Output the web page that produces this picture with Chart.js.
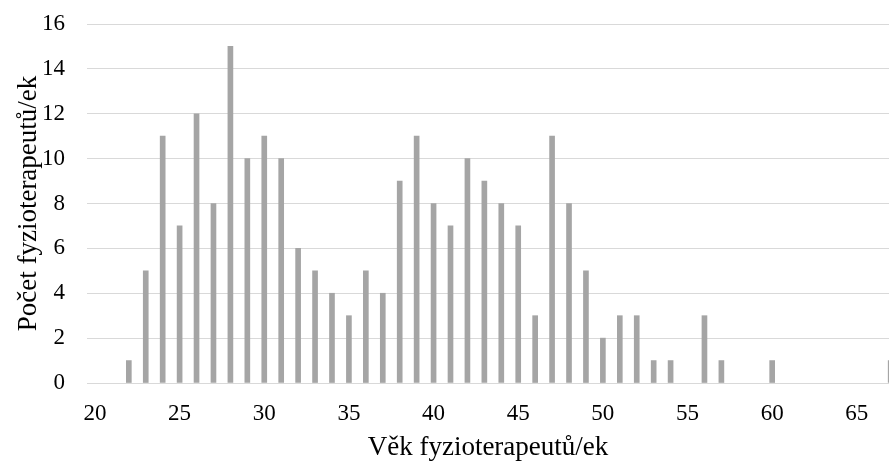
<!DOCTYPE html>
<html>
<head>
<meta charset="utf-8">
<script src="https://cdn.jsdelivr.net/npm/chart.js@4/dist/chart.umd.min.js"></script>
<style>
  body { margin: 0; background: #fff; }
  canvas { display: block; }
</style>
</head>
<body>
<canvas id="graph" width="889" height="464"></canvas>
<script>
// age of the physiotherapists and how many of them there are
const ages = [22, 23, 24, 25, 26, 27, 28, 29, 30, 31, 32, 33, 34, 35, 36, 37, 38, 39, 40, 41, 42, 43, 44,
    45, 46, 47, 48, 49, 50, 51, 52, 53, 54, 55, 56, 57, 58, 59, 60, 61, 62, 63, 64, 65, 66, 67];
const counts = [1, 5, 11, 7, 12, 8, 15, 10, 11, 10, 6, 5, 4, 3, 5, 4, 9, 11, 8, 7, 10, 9, 8,
    7, 3, 11, 8, 5, 2, 3, 3, 1, 1, 0, 3, 1, 0, 0, 1, 0, 0, 0, 0, 0, 0, 1];
const xTicks = [20, 25, 30, 35, 40, 45, 50, 55, 60, 65];
const yTicks = [0, 2, 4, 6, 8, 10, 12, 14, 16];

// empty ages get no bar at all
const points = ages.map((a, i) => ({ x: a, y: counts[i] })).filter(p => p.y > 0);

const family = '"Liberation Serif", "Times New Roman", serif';
const tickFont = { family: family, size: 23 };
const titleFont = { family: family, size: 27 };

const ctx = document.getElementById("graph").getContext("2d");
new Chart(ctx, {
    type: "bar",
    data: {
        datasets: [{
            data: points,
            backgroundColor: "#a5a5a5",
            barThickness: 5
        }]
    },
    options: {
        responsive: false,
        animation: false,
        layout: { padding: { top: 24, right: 0, bottom: 0, left: 0 } },
        plugins: { legend: { display: false }, tooltip: { enabled: false } },
        scales: {
            x: {
                type: "linear",
                offset: false,
                min: 19.53,
                max: 66.9,
                grid: { display: false },
                border: { display: false },
                afterBuildTicks: scale => { scale.ticks = xTicks.map(v => ({ value: v })); },
                afterFit: scale => { scale.height = 81; },
                ticks: { font: tickFont, color: "#000", padding: 9, maxRotation: 0, autoSkip: false },
                title: {
                    display: true,
                    text: "Věk fyzioterapeutů/ek",
                    font: titleFont,
                    color: "#000",
                    padding: { top: 0, bottom: 0 }
                }
            },
            y: {
                min: 0,
                max: 16,
                grid: { color: "#d9d9d9", lineWidth: 1, drawTicks: false },
                border: { display: false },
                afterBuildTicks: scale => { scale.ticks = yTicks.map(v => ({ value: v })); },
                afterFit: scale => {
                    scale.width = 87;
                    // plot area edges come from the layout padding only
                    scale.paddingTop = 0;
                    scale.paddingBottom = 0;
                },
                ticks: { font: tickFont, color: "#000", padding: 22 },
                title: {
                    display: true,
                    text: "Počet fyzioterapeutů/ek",
                    font: titleFont,
                    color: "#000",
                    padding: { top: 13, bottom: 0 }
                }
            }
        }
    }
});
</script>
</body>
</html>
